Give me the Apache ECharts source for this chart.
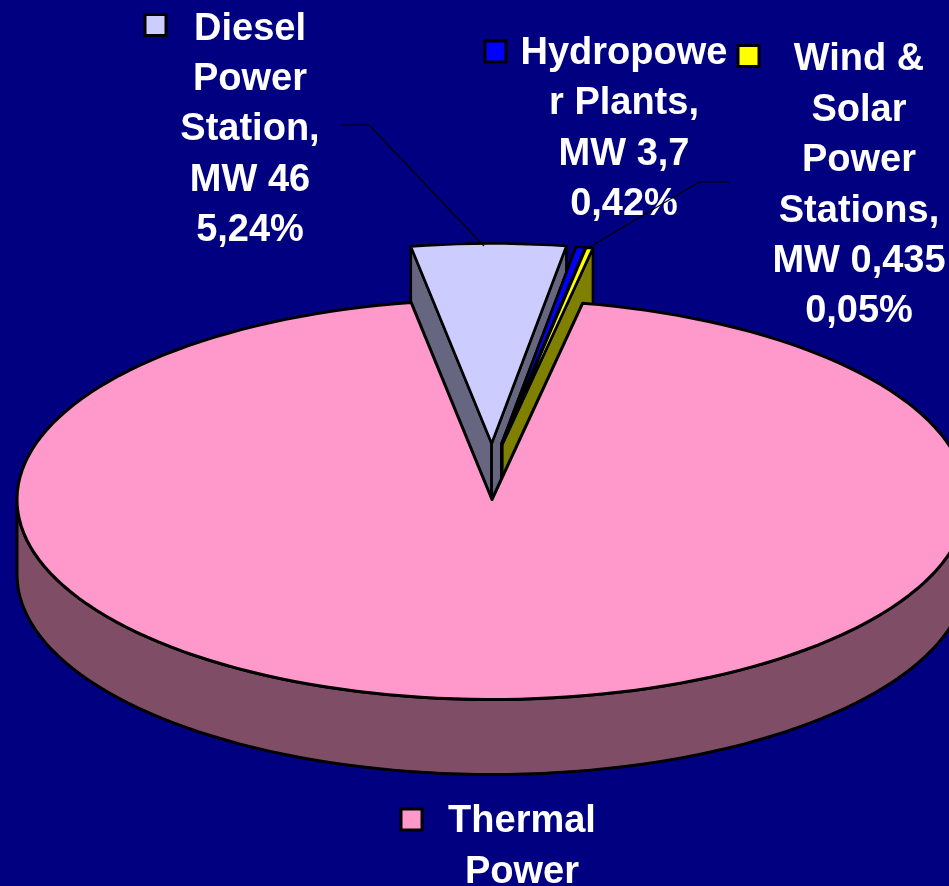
<!DOCTYPE html>
<html>
<head>
<meta charset="utf-8">
<style>html,body{margin:0;padding:0;background:#000080}#c{width:949px;height:886px}</style>
<script src="https://cdn.jsdelivr.net/npm/echarts@6/dist/echarts.min.js"></script>
</head>
<body>
<div id="c"></div>
<script>
// Data, in clockwise drawing order
var categories = ['Diesel Power Station', 'Hydropower Plants', 'Wind & Solar Power Stations', 'Thermal Power'];
var valuesMW = [46, 3.7, 0.435, 828];
var labelTexts = [
  'Diesel\nPower\nStation,\nMW 46\n5,24%',
  'Hydropowe\nr Plants,\nMW 3,7\n0,42%',
  'Wind &\nSolar\nPower\nStations,\nMW 0,435\n0,05%',
  'Thermal\nPower'
];

// Styles and layout, separate from the data
var faceColors = ['#CCCCFF', '#0000FF', '#FFFF00', '#FF99CC'];
var sideColors = ['#666680', '#000080', '#808000', '#804D66'];
var exploded = [true, true, true, false];
var textAnchors = [[250, 130], [624, 129], [859, 186], [522, 847]];
var keyBoxes = [[145, 14.5], [485, 41], [738, 45.5], [401, 809]];
var leaders = [
  [[341, 125], [369, 125], [484, 246]],
  null,
  [[729, 182], [699, 182], [588, 248]],
  null
];
// Thin slivers are widened on screen so their faces stay visible past the outlines
var sliverDeg = [0, -0.4, 0.65, -0.25];
var pie = {cx: 492, cy: 499.5, rx: 475, ry: 200, depth: 75, explode: 56, startDeg: -9.8, stepDeg: 2};
var fontStyle = 'bold 38px "Liberation Sans", Arial, sans-serif';
var lineH = 50.4;

var total = valuesMW.reduce(function (a, b) { return a + b; }, 0);
function spanOf(i) {
  return valuesMW[i] / total * 360 + sliverDeg[i];
}
function startOf(i) {
  var s = pie.startDeg;
  for (var k = 0; k < i; k++) s += spanOf(k);
  return s;
}
function arcPts(cx, cy, a0, a1) {
  var pts = [];
  var n = Math.max(1, Math.ceil(Math.abs(a1 - a0) / pie.stepDeg));
  for (var i = 0; i <= n; i++) {
    var t = (a0 + (a1 - a0) * i / n) * Math.PI / 180;
    pts.push([cx + pie.rx * Math.sin(t), cy - pie.ry * Math.cos(t)]);
  }
  return pts;
}
function poly(points, fill, lw) {
  return {
    type: 'polygon',
    shape: {points: points},
    style: {fill: fill, stroke: '#000', lineWidth: lw, lineJoin: 'round'}
  };
}
function renderItem(params, api) {
  var i = params.dataIndex;
  var a0 = startOf(i);
  var a1 = a0 + spanOf(i);
  var mid = (a0 + a1) / 2 * Math.PI / 180;
  var off = exploded[i] ? pie.explode : 0;
  var cx = pie.cx + off * Math.sin(mid);
  var cy = pie.cy - off * Math.cos(mid);
  var d = pie.depth;
  var children = [];
  var top = arcPts(cx, cy, a0, a1);
  if (exploded[i]) {
    [top[0], top[top.length - 1]].forEach(function (p) {
      children.push(poly([[cx, cy], p, [p[0], p[1] + d], [cx, cy + d]], sideColors[i], 2.6));
    });
  }
  var f0 = Math.max(a0, 90), f1 = Math.min(a1, 270);
  if (f1 > f0) {
    var upper = arcPts(cx, cy, f0, f1);
    var lower = upper.map(function (p) { return [p[0], p[1] + d]; }).reverse();
    children.push(poly(upper.concat(lower), sideColors[i], 3));
  }
  children.push(poly([[cx, cy]].concat(top), faceColors[i], exploded[i] ? 2.6 : 3));
  return {type: 'group', children: children};
}
function renderLabel(params) {
  var i = params.dataIndex;
  var children = [];
  if (leaders[i]) {
    children.push({
      type: 'polyline',
      shape: {points: leaders[i]},
      style: {fill: 'none', stroke: '#000', lineWidth: 1.2}
    });
  }
  children.push({
    type: 'rect',
    shape: {x: keyBoxes[i][0], y: keyBoxes[i][1], width: 21, height: 21},
    style: {fill: faceColors[i], stroke: '#000', lineWidth: 3}
  });
  children.push({
    type: 'text',
    style: {
      text: labelTexts[i], x: textAnchors[i][0], y: textAnchors[i][1],
      align: 'center', verticalAlign: 'middle',
      font: fontStyle, lineHeight: lineH, fill: '#fff'
    }
  });
  return {type: 'group', children: children};
}
var data = valuesMW.map(function (v, i) { return {name: categories[i], value: [v]}; });
var chart = echarts.init(document.getElementById('c'), null, {renderer: 'canvas'});
chart.setOption({
  animation: false,
  backgroundColor: '#000080',
  tooltip: {show: false},
  series: [
    {type: 'custom', coordinateSystem: 'none', renderItem: renderItem, data: data, silent: true, z: 1, clip: false},
    {type: 'custom', coordinateSystem: 'none', renderItem: renderLabel, data: data, silent: true, z: 2, clip: false}
  ]
});
</script>
</body>
</html>
